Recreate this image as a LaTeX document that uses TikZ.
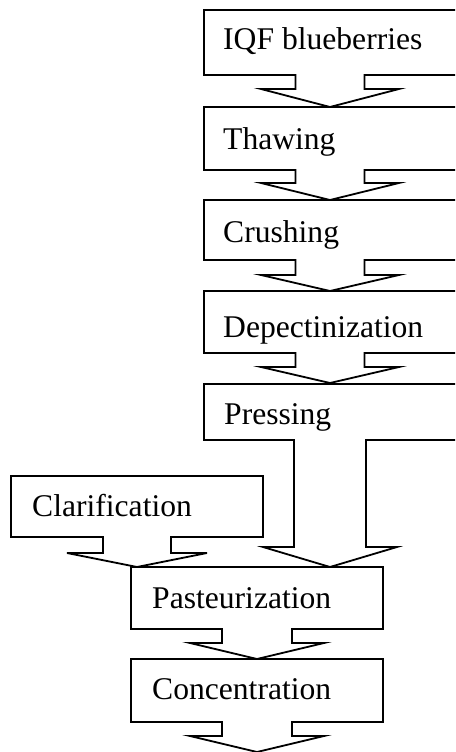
\documentclass[tikz,border=0pt]{standalone}
\usepackage{fontspec}
\setmainfont{Liberation Serif}
\tikzset{
  boxline/.style={draw=black, line width=1.8pt, line join=miter, fill=white},
  lbl/.style={anchor=base west, inner sep=0pt, font=\fontsize{31.6}{36}\selectfont}
}
% \callout{left}{right}{top}{bottom}{centre x}{shaft half}{wing half}{wing y}{tip y}
\newcommand{\callout}[9]{%
  \draw[boxline] (#1,#3) -- (#2,#3) -- (#2,#4) -- ({#5+#6},#4) -- ({#5+#6},#8)
    -- ({#5+#7},#8) -- (#5,#9) -- ({#5-#7},#8) -- ({#5-#6},#8) -- ({#5-#6},#4)
    -- (#1,#4) -- cycle;}
\begin{document}
\begin{tikzpicture}[x=1pt,y=-1pt]
\useasboundingbox (0,0) rectangle (455,752);
\clip (0,0) rectangle (455,752);
\fill[white] (0,0) rectangle (455,752);
% top column
\callout{204}{458}{10}{75}{330}{34.5}{69}{89}{107}
\callout{204}{458}{107}{170}{330}{34.5}{69}{183}{200}
\callout{204}{458}{200}{260}{330}{34.5}{69}{275}{291}
\callout{204}{458}{291}{353}{330}{34.5}{69}{367}{383}
\callout{204}{458}{384}{440}{330}{36}{67}{547}{567}
% left branch
\callout{11}{263}{476}{537}{137}{34}{70}{553}{567}
% bottom column
\callout{131}{383}{567}{629}{257}{35}{67}{643}{659}
\callout{131}{383}{659}{722}{257}{35}{67}{736}{752}
% labels
\node[lbl] (iqf) at (223,50) {IQF blueberries};
\node[lbl] (thaw) at (223,149) {Thawing};
\node[lbl] (crush) at (223,242) {Crushing};
\node[lbl] (depec) at (223,337) {Depectinization};
\node[lbl] (press) at (224,424) {Pressing};
\node[lbl] (clar) at (32,516) {Clarification};
\node[lbl] (past) at (152,608) {Pasteurization};
\node[lbl] (conc) at (152,699) {Concentration};
\end{tikzpicture}
\end{document}
